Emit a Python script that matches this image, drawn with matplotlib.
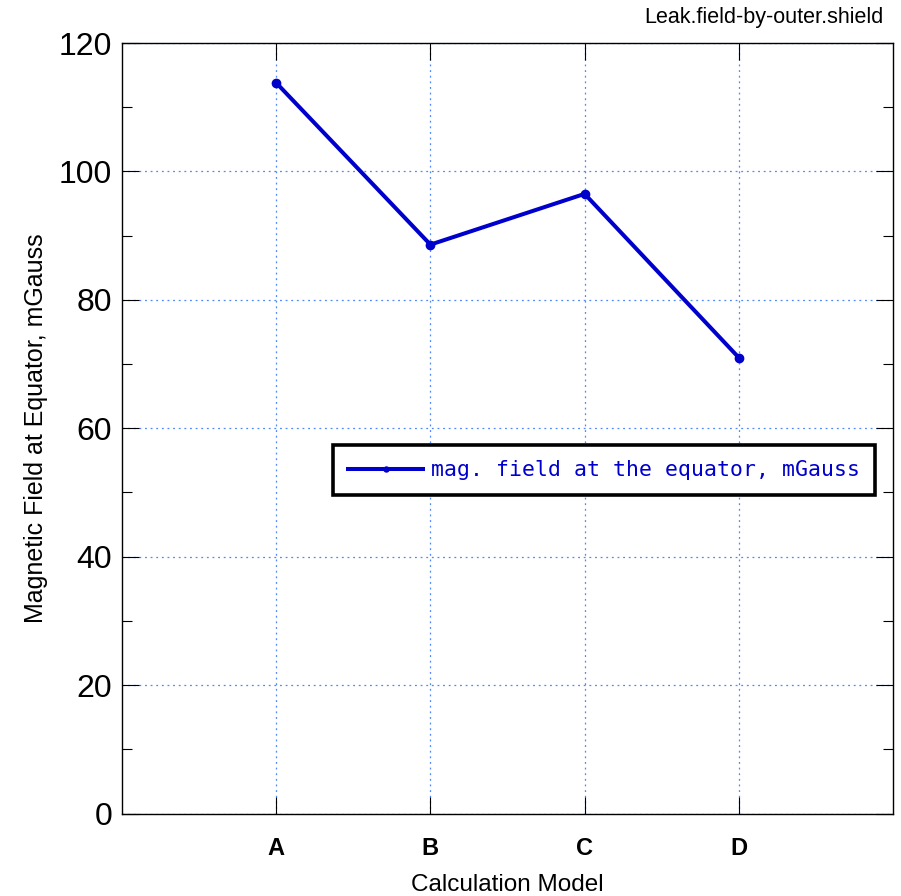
import matplotlib
matplotlib.use("Agg")
import matplotlib.pyplot as plt
from matplotlib.ticker import MultipleLocator

models = ["A", "B", "C", "D"]
field_mgauss = [113.8, 88.6, 96.5, 71.0]
yticks = [0, 20, 40, 60, 80, 100, 120]

plt.rcParams["font.family"] = ["Liberation Sans", "DejaVu Sans"]

fig = plt.figure(figsize=(9.01, 8.96), dpi=100)
ax = fig.add_axes([122 / 901, 1 - 813.5 / 896, (893 - 122) / 901, (813.5 - 43) / 896])

x = list(range(1, len(models) + 1))
ax.plot(x, field_mgauss, color="#0000cc", lw=2.9, marker="o", ms=6,
        label="mag. field at the equator, mGauss")

ax.set_xlim(0, len(models) + 1)
ax.set_ylim(0, 120)
ax.set_xticks(x)
ax.set_xticklabels(models, fontsize=17, fontweight="bold")
ax.set_yticks(yticks)
ax.set_yticklabels([str(v) for v in yticks], fontsize=23)
ax.yaxis.set_minor_locator(MultipleLocator(10))

ax.tick_params(axis="both", which="both", direction="in", top=True, right=True)
ax.tick_params(axis="y", which="major", length=12, width=0.8, pad=7)
ax.tick_params(axis="y", which="minor", length=7, width=0.8)
ax.tick_params(axis="x", which="major", length=12, width=0.8, pad=17)

ax.grid(True, which="major", color="#4d88ff", linestyle=(0, (1.5, 3)), lw=0.9)

for s in ax.spines.values():
    s.set_linewidth(1.0)

ax.set_xlabel("Calculation Model", fontsize=17.5, labelpad=10)
ax.set_ylabel("Magnetic Field at Equator, mGauss", fontsize=18, labelpad=8)

fig.text(884 / 901, 1 - 17 / 896, "Leak.field-by-outer.shield", fontsize=15.5,
         ha="right", va="center")

leg = ax.legend(loc="upper left", bbox_to_anchor=((333 - 122) / 771, (813.5 - 445) / 770.5),
                prop={"family": "DejaVu Sans Mono", "size": 15.5},
                frameon=True, fancybox=False, framealpha=1, handlelength=3.5,
                markerscale=0.6, borderpad=0.7, handletextpad=0.33,
                borderaxespad=0, labelcolor="#0000cc")
leg.get_frame().set_edgecolor("black")
leg.get_frame().set_linewidth(2.6)

fig.savefig("out.png", dpi=100)
